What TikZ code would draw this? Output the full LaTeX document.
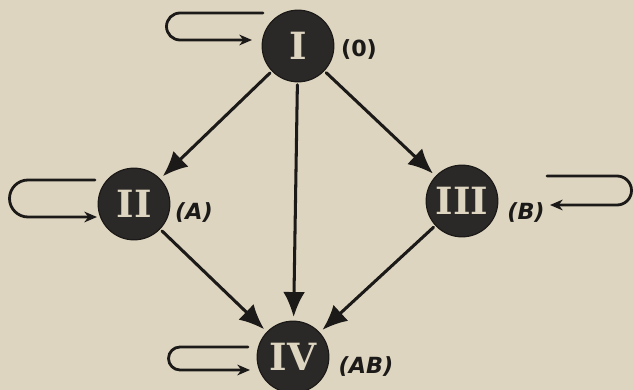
\documentclass[tikz,border=0pt]{standalone}
\usepackage{fontspec}
\usetikzlibrary{arrows.meta}
\newfontfamily\numfont{DejaVu Serif}
\newfontfamily\tagfont{DejaVu Sans}
\definecolor{paper}{HTML}{DDD5C0}
\definecolor{ink}{HTML}{1C1A18}
\definecolor{disc}{HTML}{2B2927}
\tikzset{
  state/.style={circle, fill=disc, draw=ink, line width=1pt, minimum size=21.5mm, inner sep=0pt,
    text=paper, font=\numfont\bfseries\fontsize{32}{32}\selectfont},
  tag/.style={text=ink, font=\tagfont\bfseries\fontsize{19}{19}\selectfont},
  slanttag/.style={tag, font=\tagfont\bfseries\itshape\fontsize{19}{19}\selectfont},
  move/.style={draw=ink, line width=2.6pt, -{Latex[length=7.5mm,width=6.5mm]}, shorten <=2pt, shorten >=3pt},
  stay/.style={draw=ink, line width=2.4pt, -{Stealth[length=3.8mm,width=3.2mm,inset=1.2mm]}}
}
\begin{document}
\begin{tikzpicture}[x=0.3mm, y=-0.3mm, line join=round, line cap=round]
	\fill[paper] (0,0) rectangle (633,390);
	\useasboundingbox (0,0) rectangle (633,390);
	% states
	\node[state] (I) at (298,46) {I};
	\node[state] (II) at (134,204) {II};
	\node[state] (III) at (462,201) {III};
	\node[state] (IV) at (293,357) {IV};
	\node[tag] (t0) at (359,50) {(0)};
	\node[slanttag] (tA) at (194,213) {(A)};
	\node[slanttag] (tB) at (526,213) {(B)};
	\node[slanttag] (tAB) at (366,367) {(AB)};
	% transitions
	\draw[move] (I) -- (II);
	\draw[move] (I) -- (III);
	\draw[move] (I) -- (IV);
	\draw[move] (II) -- (IV);
	\draw[move] (III) -- (IV);
	% loops
	\coordinate (Ia) at (263,13);
	\coordinate (Ib) at (252,40);
	\coordinate (IIa) at (95,180);
	\coordinate (IIb) at (97,217);
	\coordinate (IIIa) at (547,176);
	\coordinate (IIIb) at (550,205);
	\coordinate (IVa) at (248,347);
	\coordinate (IVb) at (250,370);
	\draw[stay] (Ia) -- (180,13) arc (270:90:13.5) -- (Ib);
	\draw[stay] (IIa) -- (28,180) arc (270:90:18.5) -- (IIb);
	\draw[stay] (IIIa) -- (617,176) arc (270:450:14.5) -- (IIIb);
	\draw[stay] (IVa) -- (180,347) arc (270:90:11.5) -- (IVb);
\end{tikzpicture}
\end{document}
